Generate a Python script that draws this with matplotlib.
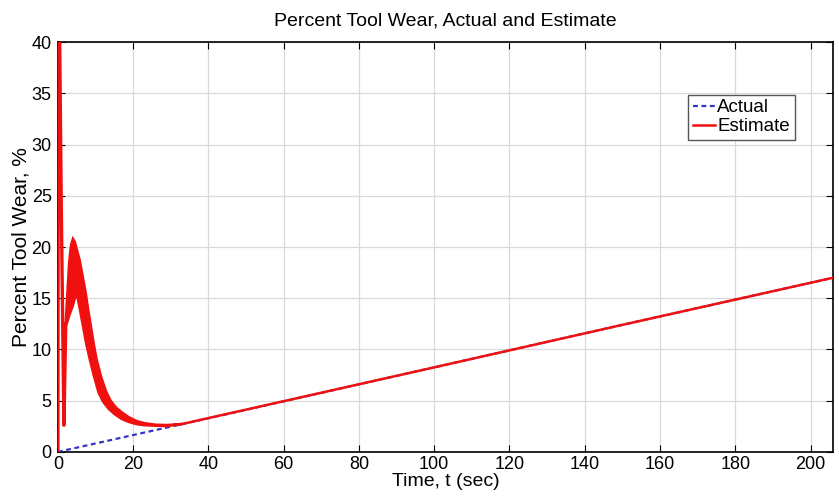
import matplotlib
matplotlib.use("Agg")
import matplotlib.pyplot as plt

plt.rcParams['font.family'] = ['Liberation Sans', 'DejaVu Sans']

# ---- data ----
actual_t = [0, 50, 100, 150, 206]
actual_v = [0.0, 4.1, 8.25, 12.4, 17.0]

# initial transient spike of the estimate
spike_t = [0.0, 0.12, 0.35, 0.9, 1.6, 2.1]
spike_v = [0.0, 45.0, 45.0, 24.0, 2.6, 12.5]

# upper envelope of the fast-oscillating estimate band
hi_t = [2.1, 2.6, 3.0, 3.5, 4.0, 4.5, 5.0, 5.8, 6.5, 7.4, 8.0, 8.8, 9.5, 10.3,
        11.5, 12.8, 14.0, 15.5, 17.2, 19.0, 21.0, 23.0, 26.0, 29.0, 33.0]
hi_v = [12.8, 16.0, 18.5, 20.2, 20.8, 20.5, 19.8, 18.7, 17.3, 15.5, 14.0, 12.2, 10.6, 9.0,
        7.3, 5.9, 5.0, 4.3, 3.8, 3.35, 3.0, 2.8, 2.65, 2.62, 2.72]
# lower envelope of the band
lo_t = [2.1, 2.6, 3.0, 3.5, 4.0, 4.5, 5.1, 5.8, 6.7, 7.5, 8.5, 9.5, 10.8, 12.0,
        13.5, 15.0, 17.0, 19.0, 21.0, 23.0, 26.0, 29.0, 33.0]
lo_v = [12.3, 12.8, 13.3, 13.8, 14.3, 15.0, 15.3, 14.0, 12.2, 10.6, 9.0, 7.5, 5.8, 4.9,
        4.2, 3.7, 3.2, 2.9, 2.7, 2.6, 2.55, 2.52, 2.72]

est_t = [33, 100, 150, 206]
est_v = [2.72, 8.25, 12.4, 17.0]

x_ticks = [0, 20, 40, 60, 80, 100, 120, 140, 160, 180, 200]
y_ticks = [0, 5, 10, 15, 20, 25, 30, 35, 40]

fig = plt.figure(figsize=(8.39, 4.96), dpi=100)
ax = fig.add_axes([0.069, 0.089, 0.924, 0.826])

red = '#f01010'
blue = '#3434c8'

ax.plot(actual_t, actual_v, color=blue, lw=1.6, linestyle=(0, (2.2, 1.6)), label='Actual', zorder=3)
ax.plot(spike_t, spike_v, color=red, lw=2.4, zorder=4)
ax.fill(hi_t + lo_t[::-1], hi_v + lo_v[::-1], facecolor=red, edgecolor=red, lw=1.8, zorder=4)
ax.plot(est_t, est_v, color=red, lw=1.8, label='Estimate', zorder=4)

ax.set_xlim(0, 206)
ax.set_ylim(0, 40)
ax.set_xticks(x_ticks)
ax.set_yticks(y_ticks)
ax.grid(True, color='#d9d9d9', lw=0.9, linestyle='-')
ax.set_axisbelow(True)
ax.tick_params(direction='in', top=True, right=True, length=5, labelsize=13)
ax.tick_params(axis='y', pad=4.5)
ax.tick_params(axis='x', pad=3)
for s in ax.spines.values():
    s.set_linewidth(1.2)

ax.set_title('Percent Tool Wear, Actual and Estimate', fontsize=14, pad=12)
ax.set_xlabel('Time, t (sec)', fontsize=14, labelpad=0)
ax.set_ylabel('Percent Tool Wear, %', fontsize=15, labelpad=1)

leg = ax.legend(loc='upper left', bbox_to_anchor=(0.813, 0.872), fontsize=13.5,
                frameon=True, fancybox=False, edgecolor='#555555', framealpha=1,
                handlelength=1.2, handletextpad=0.1, borderpad=0.25, labelspacing=0.1,
                borderaxespad=0)
leg.get_frame().set_linewidth(1.0)

fig.savefig('out.png', dpi=100)
